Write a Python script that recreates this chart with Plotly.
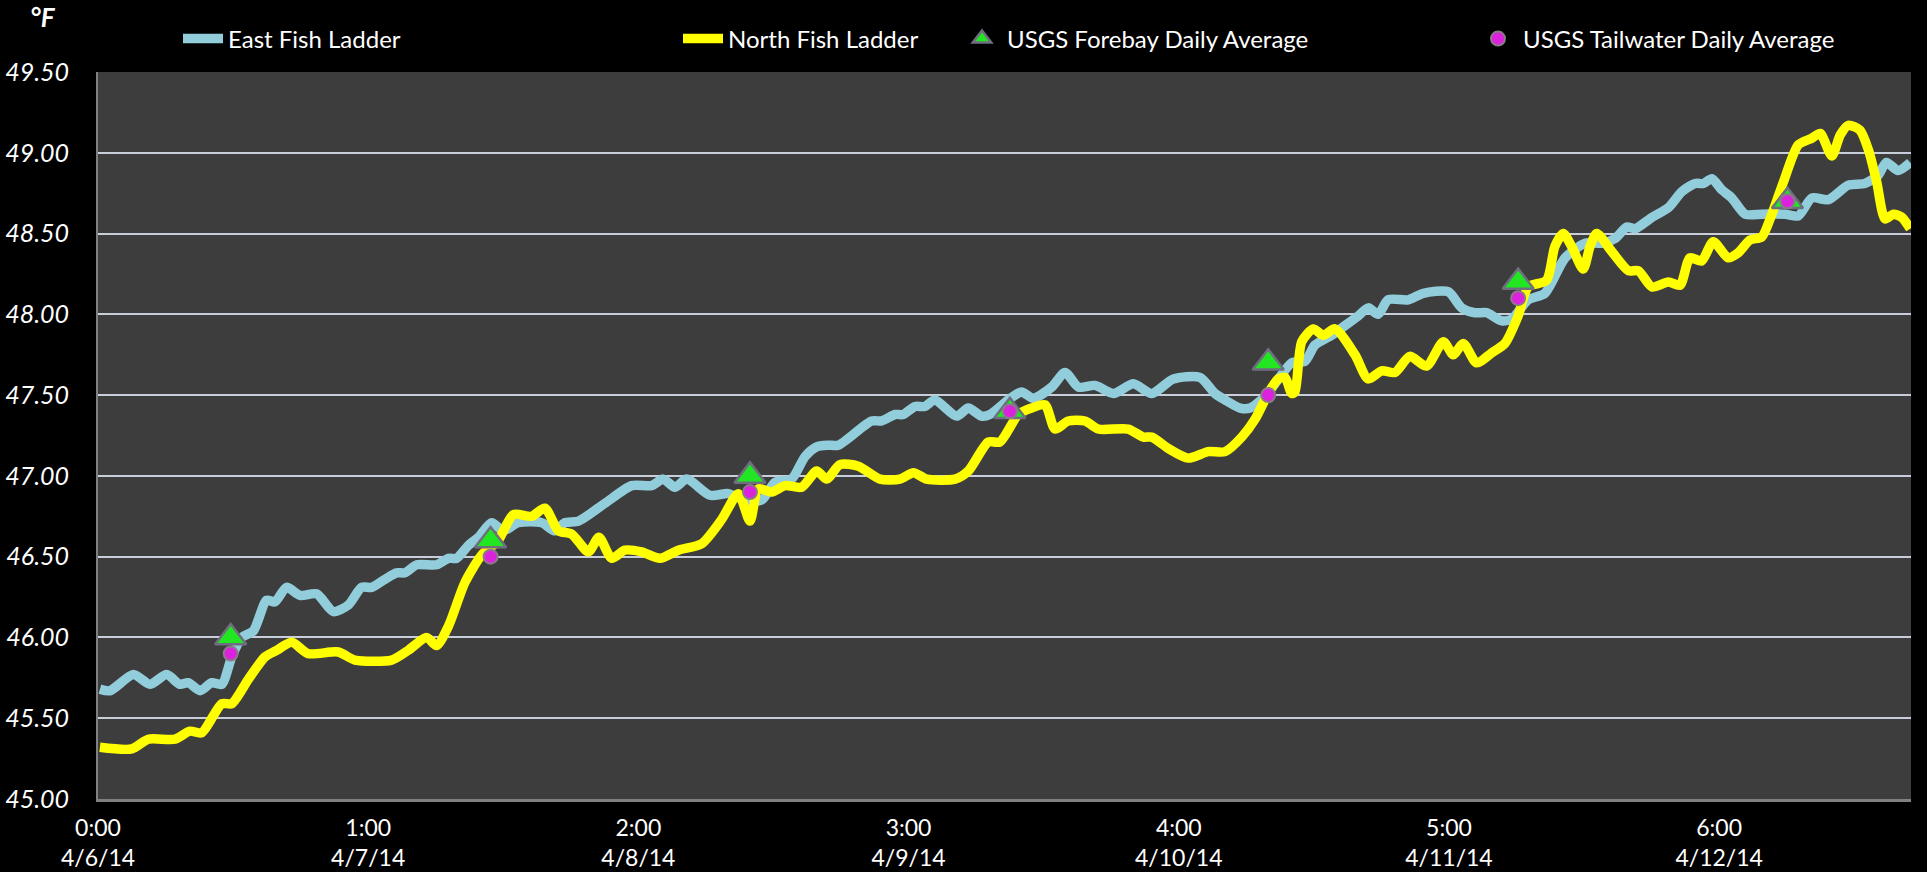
import plotly.graph_objects as go

# ---- data (x in days since 4/6/14 0:00) ----
east_day = [0.007, 0.044, 0.131, 0.192, 0.254, 0.303, 0.334, 0.378, 0.421, 0.458, 0.495, 0.532, 0.575,
            0.624, 0.655, 0.698, 0.748, 0.809, 0.871, 0.926, 0.976, 1.013, 1.062, 1.105, 1.136, 1.18,
            1.253, 1.297, 1.327, 1.371, 1.408, 1.457, 1.50, 1.555, 1.642, 1.691, 1.728, 1.778, 1.876,
            1.975, 2.049, 2.092, 2.135, 2.179, 2.265, 2.333, 2.394, 2.456, 2.506, 2.567, 2.617, 2.66,
            2.703, 2.74, 2.863, 2.9, 2.95, 2.98, 3.024, 3.06, 3.097, 3.178, 3.221, 3.27, 3.301, 3.369,
            3.418, 3.461, 3.53, 3.579, 3.628, 3.69, 3.758, 3.832, 3.9, 3.98, 4.078, 4.134, 4.171, 4.227,
            4.264, 4.319, 4.356, 4.418, 4.467, 4.504, 4.566, 4.615, 4.664, 4.701, 4.738, 4.775, 4.849,
            4.905, 4.997, 5.047, 5.096, 5.139, 5.195, 5.232, 5.293, 5.355, 5.43, 5.504, 5.566, 5.615,
            5.658, 5.689, 5.751, 5.812, 5.862, 5.911, 5.942, 5.973, 6.01, 6.047, 6.096, 6.158, 6.244,
            6.293, 6.343, 6.404, 6.478, 6.539, 6.588, 6.619, 6.662, 6.707]
east_temp = [45.68, 45.67, 45.77, 45.71, 45.77, 45.71, 45.72, 45.67, 45.72, 45.71, 45.88, 46.00, 46.04,
             46.23, 46.22, 46.31, 46.26, 46.27, 46.16, 46.20, 46.31, 46.31, 46.36, 46.40, 46.40, 46.45,
             46.45, 46.49, 46.49, 46.57, 46.62, 46.71, 46.66, 46.71, 46.71, 46.66, 46.71, 46.72, 46.83,
             46.94, 46.94, 46.98, 46.93, 46.98, 46.88, 46.89, 46.85, 46.85, 46.96, 46.98, 47.12, 47.18,
             47.19, 47.19, 47.34, 47.34, 47.38, 47.38, 47.43, 47.43, 47.47, 47.37, 47.42, 47.37, 47.38, 47.47,
             47.52, 47.48, 47.55, 47.64, 47.55, 47.56, 47.51, 47.57, 47.51, 47.60, 47.61, 47.51, 47.47, 47.42,
             47.42, 47.49, 47.57, 47.70, 47.71, 47.81, 47.87, 47.93, 47.99, 48.04, 48.00, 48.09, 48.09,
             48.13, 48.14, 48.04, 48.01, 48.01, 47.96, 47.97, 48.09, 48.13, 48.35, 48.44, 48.44, 48.47,
             48.54, 48.53, 48.60, 48.66, 48.76, 48.81, 48.81, 48.84, 48.77, 48.72, 48.62, 48.62, 48.62,
             48.61, 48.72, 48.71, 48.80, 48.81, 48.86, 48.94, 48.89, 48.94]

north_day = [0.007, 0.125, 0.186, 0.285, 0.34, 0.384, 0.458, 0.495, 0.556, 0.618, 0.661, 0.717, 0.778,
             0.889, 0.951, 1.087, 1.148, 1.216, 1.253, 1.297, 1.358, 1.42, 1.481, 1.537, 1.605, 1.654,
             1.704, 1.753, 1.815, 1.854, 1.901, 1.95, 2.012, 2.08, 2.148, 2.234, 2.308, 2.37, 2.413,
             2.444, 2.493, 2.543, 2.604, 2.66, 2.697, 2.746, 2.814, 2.894, 2.968, 3.018, 3.067, 3.172,
             3.221, 3.295, 3.338, 3.406, 3.455, 3.505, 3.542, 3.591, 3.653, 3.702, 3.813, 3.869, 3.9,
             3.961, 4.035, 4.109, 4.171, 4.233, 4.282, 4.331, 4.368, 4.393, 4.418, 4.43, 4.455, 4.498,
             4.535, 4.578, 4.652, 4.701, 4.751, 4.8, 4.855, 4.917, 4.979, 5.016, 5.053, 5.102, 5.157,
             5.207, 5.256, 5.293, 5.361, 5.392, 5.423, 5.454, 5.497, 5.522, 5.547, 5.602, 5.664, 5.701,
             5.751, 5.812, 5.855, 5.892, 5.935, 5.978, 6.033, 6.07, 6.114, 6.158, 6.195, 6.238, 6.293,
             6.343, 6.374, 6.417, 6.448, 6.478, 6.521, 6.552, 6.583, 6.614, 6.645, 6.676, 6.707]
north_temp = [45.32, 45.31, 45.37, 45.37, 45.42, 45.41, 45.59, 45.59, 45.74, 45.88, 45.92, 45.97, 45.90,
              45.91, 45.86, 45.86, 45.92, 46.00, 45.95, 46.07, 46.34, 46.51, 46.60, 46.76, 46.75, 46.80,
              46.66, 46.64, 46.53, 46.62, 46.49, 46.54, 46.53, 46.49, 46.54, 46.58, 46.73, 46.89, 46.72,
              46.92, 46.90, 46.94, 46.93, 47.03, 46.98, 47.07, 47.06, 46.98, 46.98, 47.02, 46.98, 46.98,
              47.03, 47.21, 47.21, 47.38, 47.42, 47.44, 47.29, 47.34, 47.34, 47.29, 47.29, 47.24, 47.24,
              47.17, 47.11, 47.15, 47.15, 47.24, 47.35, 47.51, 47.60, 47.61, 47.51, 47.52, 47.83, 47.91,
              47.87, 47.91, 47.75, 47.60, 47.65, 47.64, 47.74, 47.68, 47.83, 47.75, 47.82, 47.70, 47.76,
              47.82, 47.99, 48.17, 48.21, 48.42, 48.50, 48.42, 48.28, 48.42, 48.50, 48.39, 48.27, 48.27,
              48.17, 48.20, 48.18, 48.35, 48.33, 48.45, 48.35, 48.38, 48.46, 48.48, 48.62, 48.82, 49.05,
              49.09, 49.12, 48.98, 49.11, 49.17, 49.14, 49.02, 48.82, 48.59, 48.62, 48.60, 48.53]

usgs_day = [0.491, 1.453, 2.413, 3.375, 4.331, 5.256, 6.253]
forebay_temp = [46.0, 46.6, 47.0, 47.4, 47.7, 48.2, 48.7]
tailwater_temp = [45.9, 46.5, 46.9, 47.4, 47.5, 48.1, 48.7]

x_tick_vals = [0, 1, 2, 3, 4, 5, 6]
x_tick_text = ["0:00<br>4/6/14", "1:00<br>4/7/14", "2:00<br>4/8/14", "3:00<br>4/9/14",
               "4:00<br>4/10/14", "5:00<br>4/11/14", "6:00<br>4/12/14"]
y_tick_vals = [45.0, 45.5, 46.0, 46.5, 47.0, 47.5, 48.0, 48.5, 49.0, 49.5]

FONT = "Lato, 'Open Sans', sans-serif"
W, H = 1927, 872
PL, PR, PT, PB = 98, 1911, 72, 799

fig = go.Figure()
fig.add_trace(go.Scatter(x=east_day, y=east_temp, mode="lines", name="East Fish Ladder",
                         line=dict(color="#92CDDC", width=9.5, shape="spline", smoothing=0.7),
                         legend="legend2"))
fig.add_trace(go.Scatter(x=north_day, y=north_temp, mode="lines", name="North Fish Ladder",
                         line=dict(color="#FFFF00", width=9.5, shape="spline", smoothing=0.7),
                         legend="legend3"))
fig.add_trace(go.Scatter(x=usgs_day, y=forebay_temp, mode="markers", name="USGS Forebay Daily Average",
                         marker=dict(symbol="triangle-up", size=27, color="#22E622",
                                     line=dict(color="#6E6E80", width=2.5)),
                         legend="legend4"))
fig.add_trace(go.Scatter(x=usgs_day, y=tailwater_temp, mode="markers", name="USGS Tailwater Daily Average",
                         marker=dict(symbol="circle", size=14, color="#DD22DD",
                                     line=dict(color="#8A7A8A", width=2)),
                         legend="legend5"))


def leg(x):
    return dict(x=x / W, y=1 - 39 / H, xref="container", yref="container",
                xanchor="left", yanchor="middle", orientation="h",
                bgcolor="rgba(0,0,0,0)", font=dict(family=FONT, size=24, color="white"),
                itemwidth=40)


deg_x, deg_y = 43, 17
fig.update_layout(
    width=W, height=H,
    margin=dict(l=PL, r=W - PR, t=PT, b=H - PB, autoexpand=False),
    paper_bgcolor="black", plot_bgcolor="#3D3D3D",
    font=dict(family=FONT, color="white", size=24),
    showlegend=True,
    legend2=leg(178), legend3=leg(678), legend4=leg(957), legend5=leg(1473),
    xaxis=dict(range=[0, 6.71], tickvals=x_tick_vals, ticktext=x_tick_text, automargin=False,
               showgrid=False, zeroline=False, showline=True, linecolor="#808080", linewidth=3,
               ticks="outside", ticklen=6, tickcolor="rgba(0,0,0,0)",
               tickfont=dict(family=FONT, size=23, color="white")),
    yaxis=dict(range=[45, 49.5], tickvals=y_tick_vals, automargin=False,
               ticktext=["<i>%.2f</i>" % v for v in y_tick_vals],
               showgrid=True, gridcolor="#C9CFDA", gridwidth=2, zeroline=False,
               showline=True, linecolor="#808080", linewidth=2,
               ticks="outside", ticklen=22, tickcolor="rgba(0,0,0,0)",
               tickfont=dict(family=FONT, size=25, color="white")),
    annotations=[dict(text="<b><i>°F</i></b>",
                      x=(deg_x - PL) / (PR - PL), y=(PB - deg_y) / (PB - PT),
                      xref="paper", yref="paper", showarrow=False,
                      font=dict(family=FONT, size=26, color="white"),
                      xanchor="center", yanchor="middle")],
)

fig.write_html("out.html", config={"displayModeBar": False},
               post_script="document.body.style.margin='0';document.body.style.background='black';"
                           "document.documentElement.style.overflow='hidden';")
